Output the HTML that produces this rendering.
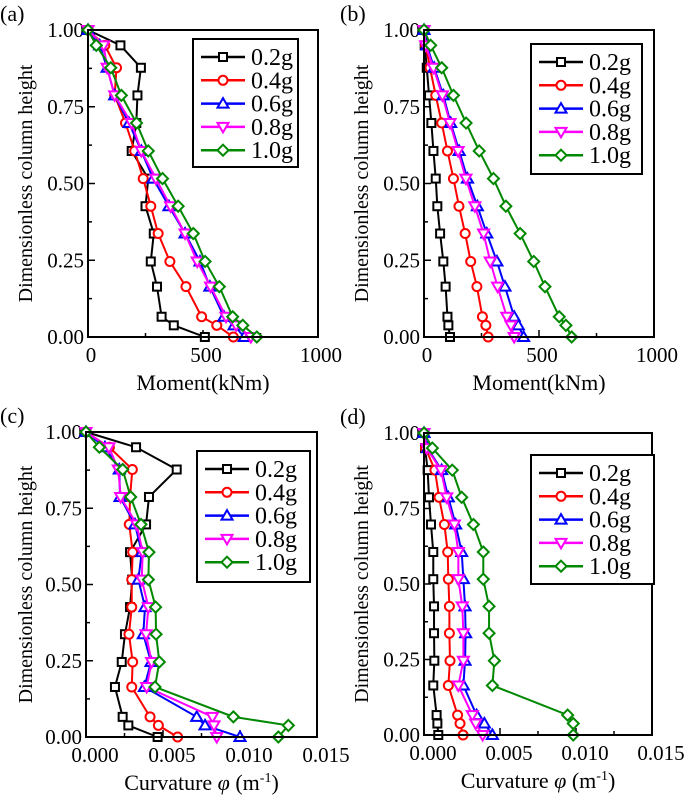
<!DOCTYPE html>
<html><head><meta charset="utf-8"><style>
html,body{margin:0;padding:0;background:#fff;font-family:"Liberation Serif","Times New Roman","DejaVu Serif",serif;}
svg, svg text, svg tspan{font-family:"Liberation Serif","Times New Roman","DejaVu Serif",serif !important;}
</style></head><body>
<svg id="fig" width="685" height="797" viewBox="0 0 685 797"></svg>
<script>
const heights=[1,0.95,0.877,0.787,0.697,0.606,0.516,0.426,0.337,0.246,0.164,0.066,0.038,0];
const seriesNames=["0.2g","0.4g","0.6g","0.8g","1.0g"];
const momentA_02=[0,141,230,215,210,190,262,250,286,273,300,320,373,508];
const momentA_04=[0,73,124,116,163,203,240,273,305,356,426,494,560,632];
const momentA_06=[0,51,83,116,178,232,283,352,422,487,530,591,635,679];
const momentA_08=[0,68,83,116,189,232,295,359,422,475,533,600,644,708];
const momentA_10=[0,36,99,145,211,262,324,392,458,509,571,629,673,734];
const momentB_02=[0,3,12,22,32,41,51,58,70,84,94,102,106,113];
const momentB_04=[0,7,26,51,77,102,128,152,179,203,230,254,269,279];
const momentB_06=[0,12,44,84,116,153,189,232,273,317,352,392,410,433];
const momentB_08=[0,7,41,80,113,148,182,221,259,288,320,360,378,392];
const momentB_10=[0,29,77,128,183,240,302,356,418,477,526,588,617,642];
const curvC_02=[0,.00325,.00589,.00409,.0039,.00286,.0030,.00286,.00253,.00232,.00188,.00238,.00275,.00465];
const curvC_04=[0,.00152,.00301,.00286,.00281,.00303,.00297,.00297,.00279,.00303,.00297,.00416,.0047,.00595];
const curvC_06=[0,.00123,.00216,.00221,.00318,.00362,.0034,.00383,.00372,.00422,.00379,.00719,.00773,.0100];
const curvC_08=[0,.00149,.0021,.00225,.00329,.00368,.00362,.00405,.0039,.00426,.00394,.00821,.00831,.00849];
const curvC_10=[0,.00087,.00238,.0029,.00357,.00409,.00405,.00452,.00455,.00476,.00448,.00957,.01314,.01249];
const curvD_02=[0,.00007,.00024,.00033,.00046,.00061,.00061,.00066,.00066,.00068,.00061,.00083,.00088,.00094];
const curvD_04=[0,.0001,.00072,.00099,.00134,.00156,.0016,.00167,.00167,.00171,.0016,.00221,.00237,.00257];
const curvD_06=[0,.00024,.00116,.0016,.00208,.00248,.00259,.0027,.00274,.0027,.00259,.00346,.00397,.0045];
const curvD_08=[0,.00018,.00112,.00149,.002,.00226,.00226,.00252,.00259,.00259,.00226,.00318,.0034,.00386];
const curvD_10=[0,.00055,.00186,.00248,.00325,.0039,.0039,.00428,.00428,.00463,.0045,.00945,.00982,.00982];
const yTickLabels=["0.00","0.25","0.50","0.75","1.00"];
const momentTickLabels=["0","500","1000"];
const curvTickLabels=["0.000","0.005","0.010","0.015"];

const colors=["#000","#f00","#00f","#f0f","#080"];
const NS="http://www.w3.org/2000/svg";
const svg=document.getElementById('fig');
function mk(tag,attrs,parent){const e=document.createElementNS(NS,tag);for(const k in attrs)e.setAttribute(k,attrs[k]);if(tag==='text')e.style.fontFamily='"Liberation Serif","Times New Roman","DejaVu Serif",serif';(parent||svg).appendChild(e);return e;}
function marker(g,type,x,y,c){
  let e;
  if(type===0)e=mk('rect',{x:x-4,y:y-4,width:8,height:8},g);
  else if(type===1)e=mk('circle',{cx:x,cy:y,r:4.5},g);
  else if(type===2)e=mk('polygon',{points:`${x},${y-5.5} ${x-5.5},${y+4} ${x+5.5},${y+4}`},g);
  else if(type===3)e=mk('polygon',{points:`${x},${y+5.5} ${x-5.5},${y-4} ${x+5.5},${y-4}`},g);
  else e=mk('polygon',{points:`${x},${y-5.5} ${x+5.5},${y} ${x},${y+5.5} ${x-5.5},${y}`},g);
  e.setAttribute('fill','#fff');e.setAttribute('stroke',c);e.setAttribute('stroke-width','2');
  return e;
}
function panel(p){
  const g=mk('g',{});
  
  
  const X=v=>p.x0+(v-p.xmin)/(p.xmax-p.xmin)*(p.x1-p.x0);
  const Y=v=>p.y1-v*(p.y1-p.y0);
  for(let i=0;i<=8;i++){const y=Y(i/8);mk('line',{x1:p.x0,x2:p.x0+(i%2?4:7),y1:y,y2:y,stroke:'#000','stroke-width':1.5},g);}
  yTickLabels.forEach((t,i)=>{const e=mk('text',{x:p.x0-4,y:Y(i*0.25)+7,'text-anchor':'end','font-size':21},g);e.textContent=t;
    });
  const nt=p.xticks.length;
  for(let i=0;i<=(nt-1)*2;i++){const v=p.xmin+i*p.step/2;const x=X(v);mk('line',{x1:x,x2:x,y1:p.y1,y2:p.y1-(i%2?4:7),stroke:'#000','stroke-width':1.5},g);}
  p.xticks.forEach((t,i)=>{const e=mk('text',{x:X(p.xmin+i*p.step)+p.lo,y:p.y1+25,'text-anchor':'middle','font-size':21},g);e.textContent=t;
    });
  p.series.forEach((vals,s)=>{
    const sg=mk('g',{},g);
    
    
    mk('polyline',{points:vals.map((v,i)=>X(v)+','+Y(heights[i])).join(' '),fill:'none',stroke:colors[s],'stroke-width':2},sg);
    vals.forEach((v,i)=>marker(sg,s,X(v),Y(heights[i]),colors[s]));
  });
  const fr=mk('rect',{x:p.x0,y:p.y0,width:p.x1-p.x0,height:p.y1-p.y0,fill:'none',stroke:'#000','stroke-width':2},g);
  
  const L=p.leg;
  const lg=mk('g',{},g);
  
  
  mk('rect',{x:L.x,y:L.y,width:L.w,height:L.h,fill:'#fff',stroke:'#000','stroke-width':2},lg);
  seriesNames.forEach((n,s)=>{
    const y=L.y+18+s*23.3;
    const eg=mk('g',{},lg);
    
    
    mk('line',{x1:L.x+8,x2:L.x+52,y1:y,y2:y,stroke:colors[s],'stroke-width':2.5},eg);
    marker(eg,s,L.x+30,y,colors[s]);
    const t=mk('text',{x:L.x+58,y:y+8,'font-size':24},eg);t.textContent=n;
  });
  const yt=mk('text',{x:0,y:0,transform:`translate(${p.ytx},${(p.y0+p.y1)/2}) rotate(-90)`,'text-anchor':'middle','font-size':20},g);
  yt.textContent='Dimensionless column height';
  
  const xt=mk('text',{x:(p.x0+p.x1)/2,y:p.y1+53,'text-anchor':'middle','font-size':22},g);
  if(p.curv){xt.innerHTML='Curvature <tspan font-style="italic">φ</tspan> (m<tspan font-size="14" dy="-8">-1</tspan><tspan dy="8">)</tspan>';}
  else xt.textContent='Moment(kNm)';
  
  const pl=mk('text',{x:p.plx,y:p.y0-9,'font-size':22},g);pl.textContent='('+p.id+')';
  
}
panel({id:'a',x0:88,x1:318,y0:30,y1:337,xmin:0,xmax:1000,step:500,lo:3,xticks:momentTickLabels,
  series:[momentA_02,momentA_04,momentA_06,momentA_08,momentA_10],leg:{x:193,y:39,w:105,h:128},ytx:32,plx:0});
panel({id:'b',x0:424,x1:654,y0:30,y1:337,xmin:0,xmax:1000,step:500,lo:3,xticks:momentTickLabels,
  series:[momentB_02,momentB_04,momentB_06,momentB_08,momentB_10],leg:{x:531,y:44,w:111,h:130},ytx:368,plx:340});
panel({id:'c',x0:86,x1:317,y0:432,y1:737,xmin:0,xmax:0.015,step:0.005,lo:9,curv:true,xticks:curvTickLabels,
  series:[curvC_02,curvC_04,curvC_06,curvC_08,curvC_10],leg:{x:197,y:451,w:113,h:131},ytx:32,plx:0});
panel({id:'d',x0:424,x1:652,y0:433,y1:735,xmin:0,xmax:0.015,step:0.005,lo:9,curv:true,xticks:curvTickLabels,
  series:[curvD_02,curvD_04,curvD_06,curvD_08,curvD_10],leg:{x:531,y:455,w:123,h:129},ytx:368,plx:340});
</script>
</body></html>
